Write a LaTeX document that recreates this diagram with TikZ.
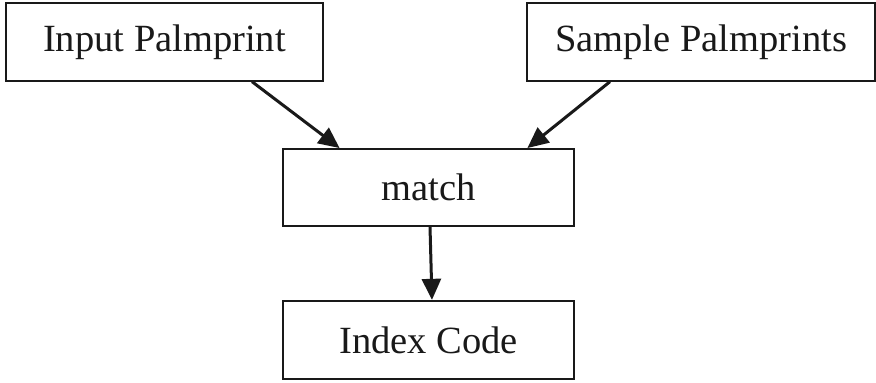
\documentclass[tikz,border=0pt]{standalone}
\usepackage{fontspec}
\setmainfont{Liberation Serif}
\usetikzlibrary{arrows.meta}
\begin{document}
\begin{tikzpicture}[x=1pt,y=-1pt,
  box/.style={draw=black!90,line width=1.3pt,rectangle,inner sep=0pt,font=\fontsize{38.5}{42}\selectfont,text=black!90},
  conn/.style={line width=3pt,draw=black!90,-{Triangle[length=21pt,width=19pt]},shorten >=0.5pt}]
\useasboundingbox (0,0) rectangle (876,383);
\node[box,minimum width=317pt,minimum height=78pt] (in) at (164.5,42) {Input Palmprint};
\node[box,minimum width=348pt,minimum height=78pt] (sp) at (701,42) {Sample Palmprints};
\node[box,minimum width=291pt,minimum height=77pt] (m) at (428.5,187.5) {match};
\node[box,minimum width=291pt,minimum height=78pt] (ic) at (428.5,340) {Index Code};
\draw[conn] ([xshift=87.5pt]in.south) -- ([xshift=-88.5pt]m.north);
\draw[conn] ([xshift=-91pt]sp.south) -- ([xshift=98.5pt]m.north);
\draw[conn] ([xshift=1.5pt]m.south) -- ([xshift=3.5pt]ic.north);
\end{tikzpicture}
\end{document}
